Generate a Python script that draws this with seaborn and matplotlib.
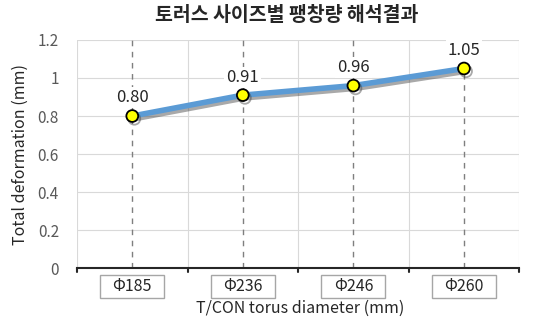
import matplotlib
matplotlib.use("Agg")
import matplotlib.pyplot as plt
import matplotlib.transforms as mtransforms
from matplotlib.patches import Rectangle
import seaborn as sns
import pandas as pd
import matplotlib.patheffects as pe

categories = ["Φ185", "Φ236", "Φ246", "Φ260"]
values = [0.80, 0.91, 0.96, 1.05]
value_labels = ["0.80", "0.91", "0.96", "1.05"]
yticks = [0, 0.2, 0.4, 0.6, 0.8, 1, 1.2]
ytick_labels = ["0", "0.2", "0.4", "0.6", "0.8", "1", "1.2"]

sns.set_theme(style="white")
plt.rcParams['font.family'] = ['Noto Sans CJK KR', 'DejaVu Sans']

df = pd.DataFrame({"pos": range(len(categories)), "value": values})

fig = plt.figure(figsize=(5.46, 3.25), dpi=100)
ax = fig.add_axes([0.141, 0.175, 0.81, 0.702])

# horizontal grid
for yv in yticks[1:]:
    ax.axhline(yv, color="#d9d9d9", lw=0.8, zorder=0)
# vertical solid grid at category boundaries
for b in [-0.5, 0.5, 1.5, 2.5, 3.5]:
    ax.axvline(b, color="#d9d9d9", lw=0.8, zorder=0)
# dashed drop lines
for i in range(len(categories)):
    ax.axvline(i, color="#7f7f7f", lw=1.0, ls=(0, (4, 4)), zorder=1)

sns.lineplot(data=df, x="pos", y="value", ax=ax, color="#5b9bd5", lw=4,
             marker="o", markersize=8.5, markerfacecolor="#ffff00",
             markeredgecolor="black", markeredgewidth=1.3, zorder=3,
             path_effects=[pe.SimpleLineShadow(offset=(1.5, -2), alpha=0.45, shadow_color="#404040"),
                           pe.Normal()])

for i, (v, t) in enumerate(zip(values, value_labels)):
    ax.text(i, v + 0.095, t, ha="center", va="center", fontsize=12, color="#262626",
            bbox=dict(facecolor="white", edgecolor="none", pad=1.5), zorder=4)

ax.set_xlim(-0.5, 3.5)
ax.set_ylim(0, 1.2)
ax.set_yticks(yticks)
ax.set_yticklabels(ytick_labels, fontsize=11, color="#595959")
ax.set_xticks([])
ax.set_xlabel("")
ax.set_ylabel("Total deformation (mm)", fontsize=11.5, color="#262626", labelpad=6)
ax.tick_params(axis="y", length=0, pad=13)

for s in ["top", "right", "left"]:
    ax.spines[s].set_visible(False)
ax.spines["bottom"].set_color("#262626")
ax.spines["bottom"].set_linewidth(1.5)

# boundary tick marks on x axis
for b in [-0.5, 0.5, 1.5, 2.5, 3.5]:
    ax.plot([b, b], [0, -0.02], color="#262626", lw=1.5, clip_on=False)

# boxed category labels
trans = mtransforms.blended_transform_factory(ax.transData, ax.transAxes)
for i, c in enumerate(categories):
    ax.add_patch(Rectangle((i - 0.29, -0.13), 0.58, 0.1, transform=trans,
                           facecolor="white", edgecolor="#a6a6a6", lw=1.0, clip_on=False))
    ax.text(i, -0.081, c, ha="center", va="center", fontsize=11.5, color="#262626",
            transform=trans, clip_on=False)

fig.text(0.55, 0.052, "T/CON torus diameter (mm)", ha="center", va="center",
         fontsize=11.5, color="#262626")
fig.text(0.525, 0.952, "토러스 사이즈별 팽창량 해석결과", ha="center", va="center",
         fontsize=14, fontweight="bold", color="#262626")

fig.savefig("out.png", dpi=100)
